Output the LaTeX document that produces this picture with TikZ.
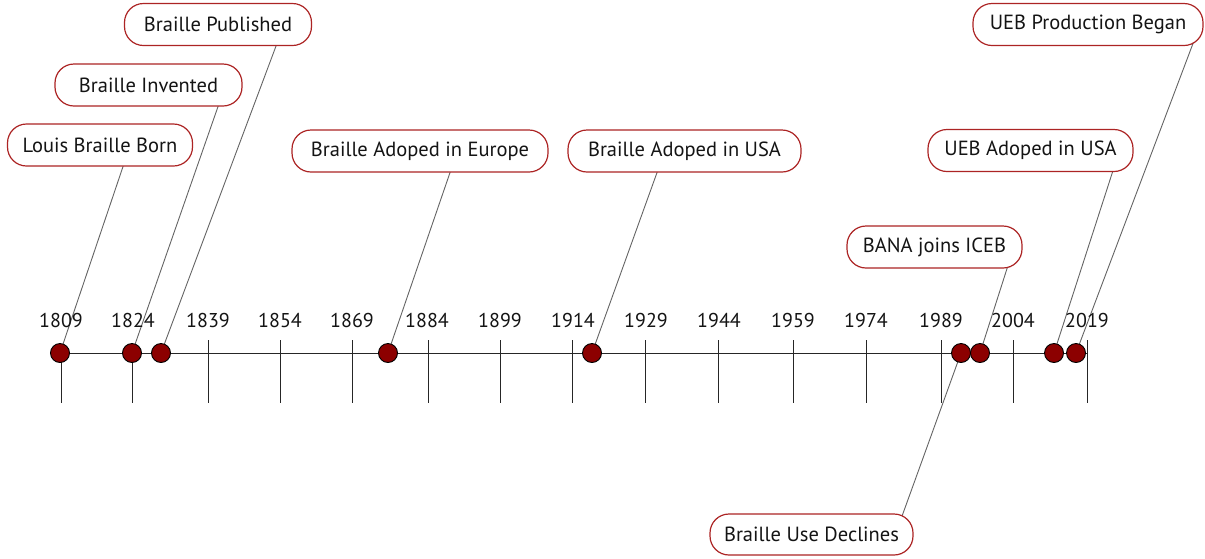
\documentclass[tikz,border=0pt]{standalone}
\usepackage{fontspec}
\setmainfont{PT Sans}
\usetikzlibrary{backgrounds,calc}
\definecolor{boxred}{RGB}{172,36,36}
\definecolor{dotred}{RGB}{140,0,0}
\definecolor{connc}{RGB}{100,100,100}
\begin{document}
\begin{tikzpicture}[x=1pt,y=-1pt,
  event/.style={draw=boxred,line width=1.2pt,fill=white,rounded corners=19pt,
    minimum height=42pt,inner sep=0pt,font=\fontsize{20.5}{22}\selectfont,text=black!92},
  evdot/.style={circle,draw=black,fill=dotred,line width=0.9pt,minimum size=19pt,inner sep=0pt},
  tickline/.style={line width=0.9pt,black!85},
  yearlabel/.style={font=\fontsize{20}{22}\selectfont,text=black!92,inner sep=0pt},
  connline/.style={draw=connc,line width=0.9pt}]
\useasboundingbox (0,0) rectangle (1205,558);

% axis and ticks
\draw[tickline] (61,353) -- (1087,353);
\draw[tickline] (61,353) -- (61,403);
\draw[tickline] (132,353) -- (132,403);
\foreach \xx in {208,280,352,428,500,572,645,718,793,866,941,1013,1087}
  \draw[tickline] (\xx,340) -- (\xx,403);
\foreach \xx/\yy in {61/1809,133/1824,208/1839,280/1854,352/1869,427/1884,500/1899,573/1914,646/1929,719/1944,793/1959,866/1974,941/1989,1013/2004,1087/2019}
  \node[yearlabel] (y\yy) at (\xx,320) {\yy};

% event boxes
\node[event,minimum width=185pt] (lbb) at (100,145) {Louis Braille Born};
\node[event,minimum width=187pt] (bi)  at (148.5,85) {Braille Invented};
\node[event,minimum width=187pt] (bp)  at (218,24.5) {Braille Published};
\node[event,minimum width=256pt] (bae) at (420,151) {Braille Adoped in Europe};
\node[event,minimum width=233pt] (bau) at (684.5,151) {Braille Adoped in USA};
\node[event,minimum width=175pt] (bana) at (934.5,247) {BANA joins ICEB};
\node[event,minimum width=203pt,minimum height=41pt] (bud) at (811.5,534.5) {Braille Use Declines};
\node[event,minimum width=205pt] (uau) at (1030.5,150.5) {UEB Adoped in USA};
\node[event,minimum width=230pt] (uep) at (1088,24.5) {UEB Production Began};

% dots
\node[evdot] (d1) at (60,353) {};
\node[evdot] (d2) at (132,353) {};
\node[evdot] (d3) at (161,353) {};
\node[evdot] (d4) at (388,353) {};
\node[evdot] (d5) at (592,353) {};
\node[evdot] (d6) at (961,353) {};
\node[evdot] (d7) at (980,353) {};
\node[evdot] (d8) at (1054,353) {};
\node[evdot] (d9) at (1076,353) {};

% connectors
\begin{scope}[on background layer]
\draw[connline] ($([xshift=23pt]lbb.south)!-6pt!(d1)$) -- (d1.center);
\draw[connline] ($([xshift=69.5pt]bi.south)!-6pt!(d2)$) -- (d2.center);
\draw[connline] ($([xshift=58pt]bp.south)!-6pt!(d3)$) -- (d3.center);
\draw[connline] ($([xshift=30pt]bae.south)!-6pt!(d4)$) -- (d4.center);
\draw[connline] ($([xshift=-27.5pt]bau.south)!-6pt!(d5)$) -- (d5.center);
\draw[connline] ($([xshift=72.5pt]bana.south)!-6pt!(d7)$) -- (d7.center);
\draw[connline] ($([xshift=91.5pt]bud.north)!-6pt!(d6)$) -- (d6.center);
\draw[connline] ($([xshift=82pt]uau.south)!-6pt!(d8)$) -- (d8.center);
\draw[connline] ($([xshift=104pt]uep.south)!-6pt!(d9)$) -- (d9.center);
\end{scope}
\end{tikzpicture}
\end{document}
